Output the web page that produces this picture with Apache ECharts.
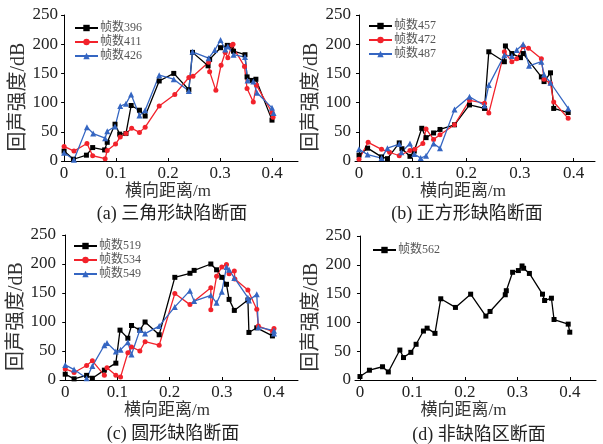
<!DOCTYPE html>
<html lang="zh">
<head>
<meta charset="utf-8">
<script src="https://cdn.jsdelivr.net/npm/echarts@6.0.0/dist/echarts.min.js"></script>
</head>
<body style="margin:0;background:#fff">
<div id="chart" style="width:603px;height:444px;"></div>
<script type="text/javascript">

// (a) 三角形缺陷断面  [横向距离 m, 回声强度 dB]
var frame396 = [[0,17],[0.018,3],[0.043,10],[0.055,23],[0.078,19],[0.083,32],[0.098,63],[0.107,46],[0.119,47],[0.129,95],[0.145,87],[0.156,77],[0.183,137],[0.211,150],[0.24,122],[0.247,186],[0.277,163],[0.28,174],[0.301,194],[0.314,198],[0.322,197],[0.326,188],[0.348,182],[0.352,144],[0.362,138],[0.369,140],[0.4,70]];
var frame411 = [[0,25],[0.019,17],[0.044,30],[0.055,9],[0.079,4],[0.083,18],[0.099,29],[0.108,41],[0.119,47],[0.13,56],[0.145,49],[0.156,58],[0.183,94],[0.213,114],[0.24,143],[0.248,145],[0.278,169],[0.28,153],[0.292,121],[0.302,164],[0.31,186],[0.315,177],[0.323,198],[0.325,200],[0.347,162],[0.352,124],[0.364,101],[0.37,130],[0.4,83],[0.402,75]];
var frame426 = [[0,14],[0.019,2],[0.044,58],[0.056,47],[0.079,39],[0.083,51],[0.098,59],[0.108,94],[0.119,98],[0.129,114],[0.145,78],[0.156,87],[0.183,147],[0.211,140],[0.24,120],[0.247,187],[0.278,176],[0.29,190],[0.301,207],[0.31,191],[0.315,196],[0.326,182],[0.348,178],[0.353,138],[0.364,136],[0.371,117],[0.4,91],[0.403,82]];

// (b) 正方形缺陷断面
var frame457 = [[0,10],[0.016,22],[0.042,7],[0.053,4],[0.075,31],[0.08,21],[0.095,8],[0.103,17],[0.117,56],[0.125,40],[0.139,48],[0.151,54],[0.178,62],[0.206,96],[0.234,90],[0.242,187],[0.271,170],[0.273,197],[0.285,184],[0.301,177],[0.306,184],[0.34,144],[0.345,136],[0.357,151],[0.363,90],[0.39,83]];
var frame472 = [[0,3],[0.017,32],[0.042,20],[0.057,15],[0.075,9],[0.095,18],[0.104,20],[0.119,30],[0.125,55],[0.139,37],[0.151,45],[0.178,62],[0.206,104],[0.234,99],[0.242,82],[0.271,187],[0.285,170],[0.294,175],[0.306,196],[0.316,193],[0.34,175],[0.345,140],[0.357,133],[0.363,101],[0.39,73]];
var frame487 = [[0,20],[0.016,11],[0.042,5],[0.053,22],[0.075,29],[0.079,15],[0.095,30],[0.103,12],[0.115,5],[0.125,9],[0.139,30],[0.151,22],[0.178,88],[0.206,110],[0.234,95],[0.242,130],[0.271,181],[0.285,180],[0.294,190],[0.306,200],[0.317,163],[0.34,170],[0.345,148],[0.357,134],[0.39,90]];

// (c) 圆形缺陷断面
var frame519 = [[0,10],[0.017,2],[0.041,8],[0.052,3],[0.075,17],[0.097,29],[0.105,86],[0.12,72],[0.127,94],[0.143,86],[0.153,100],[0.18,78],[0.21,177],[0.239,184],[0.247,189],[0.279,200],[0.29,190],[0.3,177],[0.309,165],[0.314,139],[0.324,120],[0.35,138],[0.352,82],[0.367,90],[0.397,76]];
var frame534 = [[0,19],[0.017,13],[0.041,25],[0.052,33],[0.075,8],[0.08,21],[0.097,8],[0.106,5],[0.12,47],[0.127,57],[0.143,50],[0.153,66],[0.18,60],[0.21,149],[0.239,130],[0.279,159],[0.279,121],[0.29,179],[0.3,195],[0.309,199],[0.314,183],[0.324,188],[0.325,174],[0.35,155],[0.367,122],[0.37,93],[0.397,84],[0.4,89]];
var frame549 = [[0,26],[0.017,18],[0.041,3],[0.052,24],[0.075,60],[0.08,64],[0.097,49],[0.106,52],[0.12,65],[0.127,44],[0.143,86],[0.153,80],[0.18,93],[0.21,126],[0.239,154],[0.247,136],[0.279,146],[0.29,133],[0.3,152],[0.309,195],[0.314,190],[0.324,176],[0.35,142],[0.352,137],[0.367,148],[0.37,91],[0.4,85],[0.4,80]];

// (d) 非缺陷区断面
var frame562 = [[0,6],[0.018,17],[0.043,23],[0.054,14],[0.076,52],[0.083,39],[0.097,48],[0.107,62],[0.121,85],[0.128,90],[0.143,81],[0.154,141],[0.182,126],[0.211,149],[0.24,111],[0.248,119],[0.277,148],[0.279,155],[0.291,187],[0.302,190],[0.309,198],[0.312,194],[0.323,185],[0.348,149],[0.352,138],[0.365,142],[0.37,105],[0.397,97],[0.4,83]];

var xTicks = [0, 0.1, 0.2, 0.3, 0.4];
var yTicks = [0, 50, 100, 150, 200, 250];
var captions = ['(a) 三角形缺陷断面', '(b) 正方形缺陷断面', '(c) 圆形缺陷断面', '(d) 非缺陷区断面'];

var serif = 'Liberation Serif, "Noto Sans CJK SC", serif';
var styles = [
    {symbol: 'rect', color: '#000000', size: 5},
    {symbol: 'circle', color: '#f2222b', size: 5},
    {symbol: 'triangle', color: '#3566c2', size: 6}
];

// layout of each panel
var panels = [
    {grid: {left: 62, top: 15, width: 236, height: 146}, xMin: -0.004, xMax: 0.45, legend: {left: 74, top: 22},
     caption: [167, 209], series: [['帧数396', frame396], ['帧数411', frame411], ['帧数426', frame426]]},
    {grid: {left: 355, top: 15, width: 240, height: 146}, xMin: -0.0075, xMax: 0.44, legend: {left: 368, top: 20},
     caption: [462, 209], series: [['帧数457', frame457], ['帧数472', frame472], ['帧数487', frame487]]},
    {grid: {left: 60, top: 235, width: 238, height: 145}, xMin: -0.01, xMax: 0.446, legend: {left: 73, top: 240},
     caption: [168, 429], series: [['帧数519', frame519], ['帧数534', frame534], ['帧数549', frame549]]},
    {grid: {left: 355, top: 236, width: 241, height: 144}, xMin: -0.0095, xMax: 0.45, legend: {left: 372, top: 244},
     caption: [474, 430], series: [['帧数562', frame562]]}
];

var grids = [], xAxes = [], yAxes = [], legends = [], series = [], titles = [];

panels.forEach(function (p, i) {
    grids.push(p.grid);
    xAxes.push({
        type: 'value', gridIndex: i, min: p.xMin, max: p.xMax,
        name: '横向距离/m', nameLocation: 'middle', nameGap: 21,
        nameTextStyle: {fontFamily: serif, fontSize: 17, color: '#333', padding: [0, 24, 0, 0]},
        axisLine: {lineStyle: {color: '#000', width: 1}},
        axisTick: {show: true, inside: true, length: 3, customValues: xTicks, lineStyle: {color: '#000'}},
        axisLabel: {customValues: xTicks, fontFamily: serif, fontSize: 17, color: '#222', margin: 4,
            formatter: function (v) { return String(Math.round(v * 10) / 10); }},
        splitLine: {show: false}
    });
    yAxes.push({
        type: 'value', gridIndex: i, min: 0, max: 250, interval: 50,
        name: '回声强度/dB', nameLocation: 'middle', nameGap: 32,
        nameTextStyle: {fontFamily: serif, fontSize: 20, color: '#333', padding: [0, 18, 0, 0]},
        axisLine: {show: true, lineStyle: {color: '#000', width: 1}},
        axisTick: {show: true, length: 3, lineStyle: {color: '#000'}},
        axisLabel: {fontFamily: serif, fontSize: 17, color: '#222', margin: 4},
        splitLine: {show: false}
    });
    legends.push({
        orient: 'vertical', left: p.legend.left, top: p.legend.top,
        itemWidth: 23, itemHeight: 8, itemGap: 2, padding: 0,
        textStyle: {fontFamily: serif, fontSize: 12, color: '#555', padding: [0, 0, 0, -3]},
        data: p.series.map(function (s) { return s[0]; })
    });
    p.series.forEach(function (s, k) {
        var st = styles[k];
        series.push({
            name: s[0], type: 'line', xAxisIndex: i, yAxisIndex: i,
            data: s[1], symbol: st.symbol, symbolSize: st.size,
            showAllSymbol: true, animation: false,
            itemStyle: {color: st.color},
            lineStyle: {color: st.color, width: 1.3}
        });
    });
    titles.push({
        text: captions[i], left: p.caption[0], top: p.caption[1], textAlign: 'center', textVerticalAlign: 'middle',
        textStyle: {fontFamily: serif, fontSize: 18, fontWeight: 'normal', color: '#222'}
    });
});

var chart = echarts.init(document.getElementById('chart'));
chart.setOption({
    backgroundColor: '#fff',
    animation: false,
    title: titles,
    grid: grids,
    xAxis: xAxes,
    yAxis: yAxes,
    legend: legends,
    series: series
});
</script>
</body>
</html>
